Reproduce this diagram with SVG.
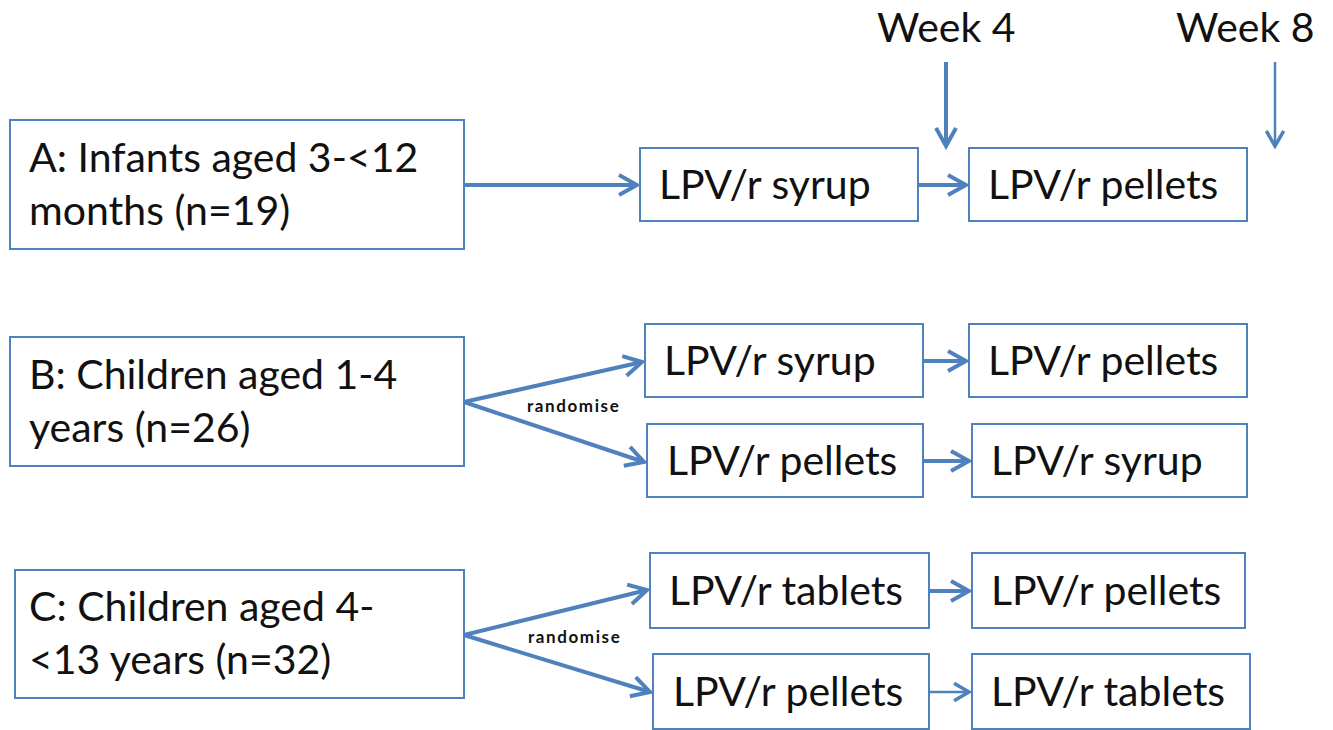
<svg xmlns="http://www.w3.org/2000/svg" width="1333" height="730" viewBox="0 0 1333 730">
<style>
.box{fill:#fff;stroke:#4f81bd;stroke-width:2}
.t{font-family:Lato,"Open Sans",sans-serif;font-size:41px;fill:#111}
.s{font-family:Lato,"Open Sans",sans-serif;font-size:17px;font-weight:bold;letter-spacing:1.6px;fill:#111}
.c{stroke:#4f81bd;stroke-width:4;fill:none;marker-end:url(#ah)}
.c2{stroke:#4f81bd;stroke-width:2.5;fill:none;marker-end:url(#ah2)}
</style>
<defs>
<marker id="ah" markerWidth="6" markerHeight="6" refX="5" refY="3" orient="auto" markerUnits="strokeWidth">
<path d="M0.5,0.5 L5,3 L0.5,5.5" fill="none" stroke="#4f81bd" stroke-width="1"/>
</marker>
<marker id="ah2" markerWidth="8" markerHeight="8" refX="6.5" refY="4" orient="auto" markerUnits="strokeWidth">
<path d="M0.5,0.5 L6.5,4 L0.5,7.5" fill="none" stroke="#4f81bd" stroke-width="1.4"/>
</marker>
</defs>
<rect width="1333" height="730" fill="#fff"/>
<g id="labels">
<text class="t" x="877" y="42">Week 4</text>
<text class="t" x="1176" y="42">Week 8</text>
</g>
<g id="connectors">
<line class="c" x1="946" y1="62" x2="946" y2="146"/>
<line class="c2" x1="1275" y1="62" x2="1275" y2="146"/>
<line class="c" x1="464" y1="185" x2="637" y2="185"/>
<line class="c" x1="918" y1="185" x2="966" y2="185"/>
<line class="c" x1="464" y1="402" x2="642" y2="362"/>
<line class="c" x1="464" y1="402" x2="644" y2="462"/>
<line class="c" x1="923" y1="361" x2="966" y2="361"/>
<line class="c" x1="923" y1="461" x2="969" y2="461"/>
<line class="c" x1="464" y1="635" x2="647" y2="590"/>
<line class="c" x1="464" y1="635" x2="650" y2="692"/>
<line class="c" x1="929" y1="591" x2="969" y2="591"/>
<line class="c2" x1="929" y1="692" x2="969" y2="692"/>
<text class="s" x="527" y="412">randomise</text>
<text class="s" x="528" y="643">randomise</text>
</g>
<g id="nodeA"><rect class="box" x="10" y="120" width="454" height="129"/>
<text class="t" x="29" y="172">A: Infants aged 3-&lt;12</text>
<text class="t" x="29" y="225">months (n=19)</text></g>
<g id="A1"><rect class="box" x="640" y="148" width="278" height="73"/><text class="t" x="659" y="199">LPV/r syrup</text></g>
<g id="A2"><rect class="box" x="969" y="148" width="278" height="73"/><text class="t" x="988" y="199">LPV/r pellets</text></g>
<g id="nodeB"><rect class="box" x="10" y="337" width="454" height="129"/>
<text class="t" x="29" y="389">B: Children aged 1-4</text>
<text class="t" x="29" y="442">years (n=26)</text></g>
<g id="B1"><rect class="box" x="645" y="324" width="278" height="73"/><text class="t" x="664" y="375">LPV/r syrup</text></g>
<g id="B2"><rect class="box" x="969" y="324" width="278" height="73"/><text class="t" x="988" y="375">LPV/r pellets</text></g>
<g id="B3"><rect class="box" x="647" y="424" width="276" height="73"/><text class="t" x="667" y="475">LPV/r pellets</text></g>
<g id="B4"><rect class="box" x="972" y="424" width="275" height="73"/><text class="t" x="991" y="475">LPV/r syrup</text></g>
<g id="nodeC"><rect class="box" x="15" y="570" width="449" height="128"/>
<text class="t" x="29" y="621">C: Children aged 4-</text>
<text class="t" x="29" y="674">&lt;13 years (n=32)</text></g>
<g id="C1"><rect class="box" x="650" y="553" width="279" height="75"/><text class="t" x="669" y="605">LPV/r tablets</text></g>
<g id="C2"><rect class="box" x="972" y="553" width="273" height="75"/><text class="t" x="991" y="605">LPV/r pellets</text></g>
<g id="C3"><rect class="box" x="653" y="654" width="276" height="75"/><text class="t" x="673" y="706">LPV/r pellets</text></g>
<g id="C4"><rect class="box" x="972" y="654" width="278" height="75"/><text class="t" x="991" y="706">LPV/r tablets</text></g>
</svg>
